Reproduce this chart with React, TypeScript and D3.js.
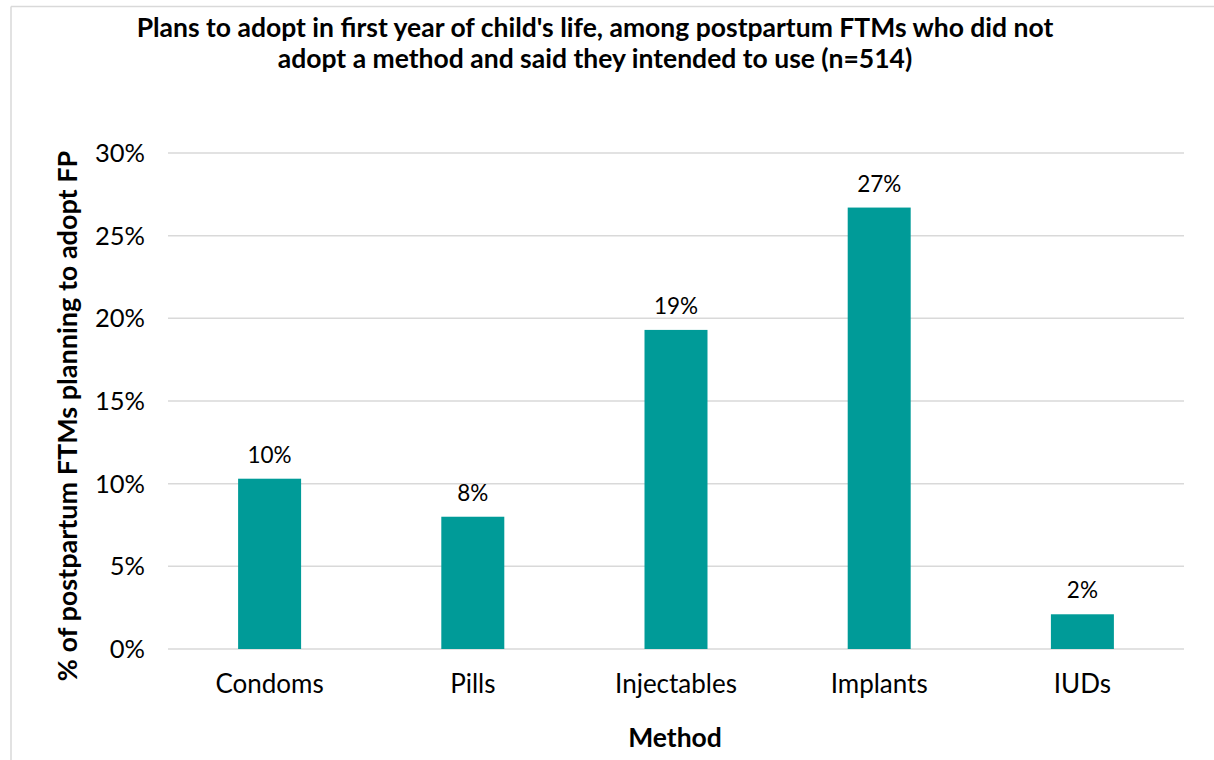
import React from "react";
import * as d3 from "d3";

const categories: string[] = ["Condoms", "Pills", "Injectables", "Implants", "IUDs"];
const values: number[] = [10.3, 8.0, 19.3, 26.7, 2.1];
const yTicks: number[] = [0, 5, 10, 15, 20, 25, 30];

const titleLines: string[] = [
  "Plans to adopt in first year of child's life, among postpartum FTMs who did not",
  "adopt a method and said they intended to use (n=514)",
];
const xTitle = "Method";
const yTitle = "% of postpartum FTMs planning to adopt FP";

const W = 1214;
const H = 760;
const plot = { left: 168, right: 1184, top: 153, bottom: 649 };
const FONT = "Lato, 'Open Sans', sans-serif";
const TEAL = "#009B98";
const GRID = "#d9d9d9";

export default function App() {
  const x = d3
    .scaleBand<string>()
    .domain(categories)
    .range([plot.left, plot.right])
    .paddingInner(0.69)
    .paddingOuter(0.345);
  const y = d3.scaleLinear().domain([0, 30]).range([plot.bottom, plot.top]);

  return (
    <svg
      width={W}
      height={H}
      style={{ position: "absolute", left: 0, top: 0, background: "#fff" }}
      fontFamily={FONT}
    >
      {/* chart frame */}
      <line x1={11} x2={W} y1={6.5} y2={6.5} stroke={GRID} strokeWidth={1.5} />
      <line x1={11} x2={11} y1={6.5} y2={H} stroke={GRID} strokeWidth={1.5} />

      {/* title */}
      {titleLines.map((t, i) => (
        <text
          key={i}
          x={595}
          y={37 + i * 31}
          textAnchor="middle"
          fontSize={26.5}
          fontWeight={700}
          fill="#000"
        >
          {t}
        </text>
      ))}

      {/* gridlines and y tick labels */}
      {yTicks.map((t) => (
        <g key={t}>
          <line
            x1={plot.left}
            x2={plot.right}
            y1={y(t)}
            y2={y(t)}
            stroke={GRID}
            strokeWidth={1.5}
          />
          <text
            x={145}
            y={y(t)}
            dy="0.35em"
            textAnchor="end"
            fontSize={25.5}
            fill="#000"
          >
            {`${t}%`}
          </text>
        </g>
      ))}

      {/* bars */}
      {categories.map((c, i) => (
        <g key={c}>
          <rect
            x={x(c)}
            y={y(values[i])}
            width={x.bandwidth()}
            height={y(0) - y(values[i])}
            fill={TEAL}
          />
          <text
            x={(x(c) as number) + x.bandwidth() / 2}
            y={y(values[i]) - 16}
            textAnchor="middle"
            fontSize={22.5}
            fill="#000"
          >
            {`${Math.round(values[i])}%`}
          </text>
          <text
            x={(x(c) as number) + x.bandwidth() / 2}
            y={693}
            textAnchor="middle"
            fontSize={26}
            fill="#000"
          >
            {c}
          </text>
        </g>
      ))}

      {/* axis titles */}
      <text x={675} y={747} textAnchor="middle" fontSize={26.5} fontWeight={700} fill="#000">
        {xTitle}
      </text>
      <text
        transform={`translate(77, 416) rotate(-90)`}
        textAnchor="middle"
        fontSize={27}
        fontWeight={700}
        fill="#000"
      >
        {yTitle}
      </text>
    </svg>
  );
}
